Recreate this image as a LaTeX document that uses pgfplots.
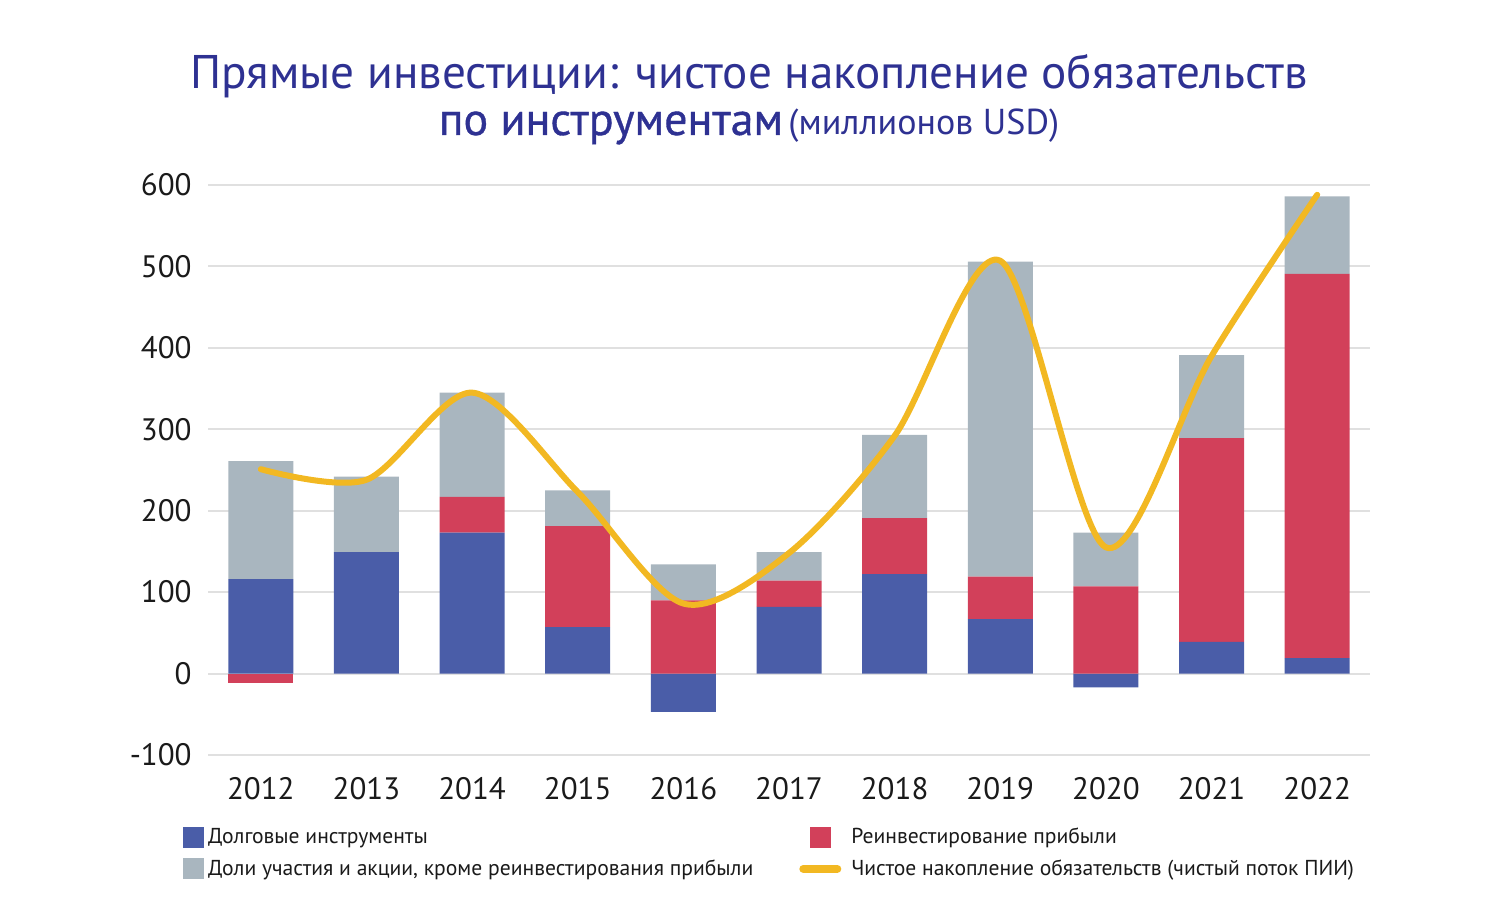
\documentclass[border=0pt]{standalone}
\usepackage{fontspec}
\setmainfont{PT Sans}
\newfontface\semib{PT Sans}[FakeBold=0.8]
\usepackage{pgfplots}
\usepackage{pgfplotstable}
\pgfplotsset{compat=1.18}
\definecolor{debt}{HTML}{4A5DA8}
\definecolor{reinv}{HTML}{D2405A}
\definecolor{equity}{HTML}{A9B6BF}
\definecolor{net}{HTML}{F2B822}
\definecolor{ttl}{HTML}{2E3192}
\definecolor{gridc}{HTML}{E0E0E0}
\definecolor{txt}{HTML}{1A1A1A}
\pgfplotstableread{
year debt reinv equity net
2012 116 0   145 251
2013 149 0   93  238
2014 173 44  128 345
2015 57  124 44  223
2016 0   90  44  86
2017 82  32  35  148
2018 122 69  102 292
2019 67  52  387 507
2020 0   107 66  155
2021 39  250 102 390
2022 19  472 95  588
}\datatable
\begin{document}
\begin{tikzpicture}
\useasboundingbox (0,0) rectangle (750pt,454.5pt);
\pgfplotsset{base/.style={width=581pt,height=285pt,scale only axis,at={(104pt,77pt)},anchor=south west,
  xmin=2011.5,xmax=2022.5,ymin=-100,ymax=600}}
\node[anchor=base, text=ttl, font=\fontsize{23.6}{28}\selectfont] at (374.5pt,410pt) {Прямые инвестиции: чистое накопление обязательств};
\node[anchor=base, text=ttl] at (374.5pt,387pt) {{\semib\fontsize{23}{27}\selectfont по инструментам} {\fontsize{18}{21}\selectfont (миллионов USD)}};
\begin{axis}[base, ybar, bar shift=0pt, bar width=32.5pt,
  ytick={-100,0,...,600}, xtick={2012,2013,...,2022},
  ymajorgrids, grid style={draw=gridc,line width=1pt},
  axis line style={draw=none}, major tick length=0pt,
  tick label style={font=\fontsize{15.5}{18}\selectfont, text=txt},
  /pgf/number format/assume math mode=true, /pgf/number format/1000 sep={},
  yticklabel style={anchor=east, inner sep=0pt, xshift=-8pt},
  xticklabel style={anchor=north, inner sep=0pt, yshift=-11pt}]
\addplot[fill=debt, draw=none] coordinates {(2016,-47) (2020,-17)};
\addplot[fill=reinv, draw=none] coordinates {(2012,-12)};
\end{axis}
\begin{axis}[base, hide axis, ybar stacked, bar width=32.5pt]
\addplot[fill=debt,draw=none] table[x=year,y=debt]{\datatable};
\addplot[fill=reinv,draw=none] table[x=year,y=reinv]{\datatable};
\addplot[fill=equity,draw=none] table[x=year,y=equity]{\datatable};
\end{axis}
\begin{axis}[base, hide axis, legend columns=2, legend cell align=left,
  legend style={at={(axis description cs:-0.0215,-0.125)}, anchor=north west, draw=none, fill=none,
    inner sep=0pt, font=\fontsize{10.8}{12}\selectfont, text=txt, row sep=5.5pt,
    /tikz/every even column/.append style={column sep=21pt},
    nodes={inner xsep=2pt, inner ysep=0pt}}]
\addlegendimage{legend image code/.code={\fill[debt] (0pt,-5pt) rectangle (10pt,5pt);}}
\addlegendentry{Долговые инструменты}
\addlegendimage{legend image code/.code={\path[draw=none,fill=none] (0pt,0pt) -- (23pt,0pt); \fill[reinv] (4.5pt,-5pt) rectangle (14.5pt,5pt);}}
\addlegendentry{Реинвестирование прибыли}
\addlegendimage{legend image code/.code={\fill[equity] (0pt,-5pt) rectangle (10pt,5pt);}}
\addlegendentry{Доли участия и акции, кроме реинвестирования прибыли}
\addplot[net, line width=3pt, smooth, line cap=round, legend image code/.code={\path[draw=none,fill=none] (0pt,0pt) -- (23pt,0pt); \draw[net, line width=4pt, line cap=round] (1pt,0pt) -- (18pt,0pt);}] table[x=year,y=net]{\datatable};
\addlegendentry{Чистое накопление обязательств (чистый поток ПИИ)}
\end{axis}
\end{tikzpicture}
\end{document}
